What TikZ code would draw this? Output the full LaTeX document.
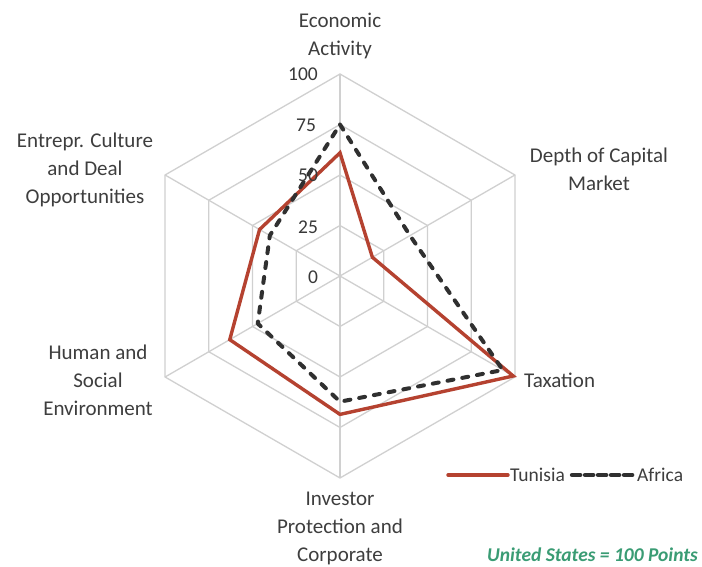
\documentclass[tikz,border=0pt]{standalone}
\usepackage{fontspec}
\setmainfont{Carlito}
\definecolor{gridgray}{RGB}{208,208,208}
\definecolor{txtgray}{RGB}{62,62,62}
\definecolor{tickgray}{RGB}{56,56,56}
\definecolor{tunred}{RGB}{181,66,48}
\definecolor{afrgray}{RGB}{48,48,48}
\definecolor{usgreen}{RGB}{58,156,116}
\begin{document}
\begin{tikzpicture}[x=1pt,y=1pt,
  gridline/.style={draw=gridgray, line width=1.3pt, line join=miter},
  lbl/.style={font=\fontsize{21}{28}\selectfont, text=txtgray, align=center, inner sep=0pt},
  ticklbl/.style={font=\fontsize{19.5}{20}\selectfont, text=tickgray, inner sep=0pt},
  leglbl/.style={font=\fontsize{19.5}{20}\selectfont, text=txtgray, inner sep=0pt},
  tunline/.style={draw=tunred, line width=3.4pt, line join=miter},
  afrline/.style={draw=afrgray, line width=4pt, dash pattern=on 6pt off 9pt, line cap=round, line join=round}]
\useasboundingbox (0,0) rectangle (702,567);
\fill[white] (0,0) rectangle (702,567);
\coordinate (c) at (340,291);
\begin{scope}[shift={(340,291)}]
  % grid hexagons
  \foreach \r in {50.5,101,151.5,202}
    \draw[gridline] (90:\r) -- (30:\r) -- (-30:\r) -- (-90:\r) -- (-150:\r) -- (150:\r) -- cycle;
  % spokes
  \foreach \a in {90,30,-30,-90,-150,150}
    \draw[gridline] (0,0) -- (\a:202);
  % Tunisia
  \coordinate (t1) at (90:123.2);
  \coordinate (t2) at (30:37.4);
  \coordinate (t3) at (-30:200);
  \coordinate (t4) at (-90:138.4);
  \coordinate (t5) at (-150:127.3);
  \coordinate (t6) at (150:92.9);
  % Africa
  \coordinate (a1) at (90:151.5);
  \coordinate (a2) at (30:80.8);
  \coordinate (a3) at (-30:188);
  \coordinate (a4) at (-90:125.7);
  \coordinate (a5) at (-150:95);
  \coordinate (a6) at (150:81);
\end{scope}
\draw[tunline] (t1) -- (t2) -- (t3) -- (t4) -- (t5) -- (t6) -- cycle;
\draw[afrline] (a1) -- (a2) -- (a3) -- (a4) -- (a5) -- (a6) -- cycle;
% tick labels
\node[ticklbl] (k100) at (303,493) {100};
\node[ticklbl] (k75) at (306,442) {75};
\node[ticklbl] (k50) at (308,392) {50};
\node[ticklbl] (k25) at (308,340) {25};
\node[ticklbl] (k0) at (313,290) {0};
% axis labels
\node[lbl] (econ) at (340,531) {Economic\\Activity};
\node[lbl] (depth) at (599,398) {Depth of Capital\\Market};
\node[lbl, anchor=west] (tax) at (524,187) {Taxation};
\node[lbl] (inv) at (340,39) {Investor\\Protection and\\Corporate};
\node[lbl] (hum) at (98,187) {Human and\\Social\\Environment};
\node[lbl] (ent) at (85,397) {Entrepr. Culture\\and Deal\\Opportunities};
% legend
\coordinate (legs) at (448,92);
\node[leglbl, anchor=west] (tun) at (510,92) {Tunisia};
\node[leglbl, anchor=west] (afr) at (637,92) {Africa};
\draw[tunline, line cap=round] (legs) -- ([xshift=-2pt]tun.west);
\draw[draw=afrgray, line width=4.5pt, dash pattern=on 8pt off 5pt, line cap=round] ([xshift=7pt]tun.east) -- ([xshift=-4pt]afr.west);
\node[font=\fontsize{19.5}{20}\selectfont\bfseries\itshape, text=usgreen, anchor=east, inner sep=0pt] (us) at (698,12) {United States = 100 Points};
\end{tikzpicture}
\end{document}
